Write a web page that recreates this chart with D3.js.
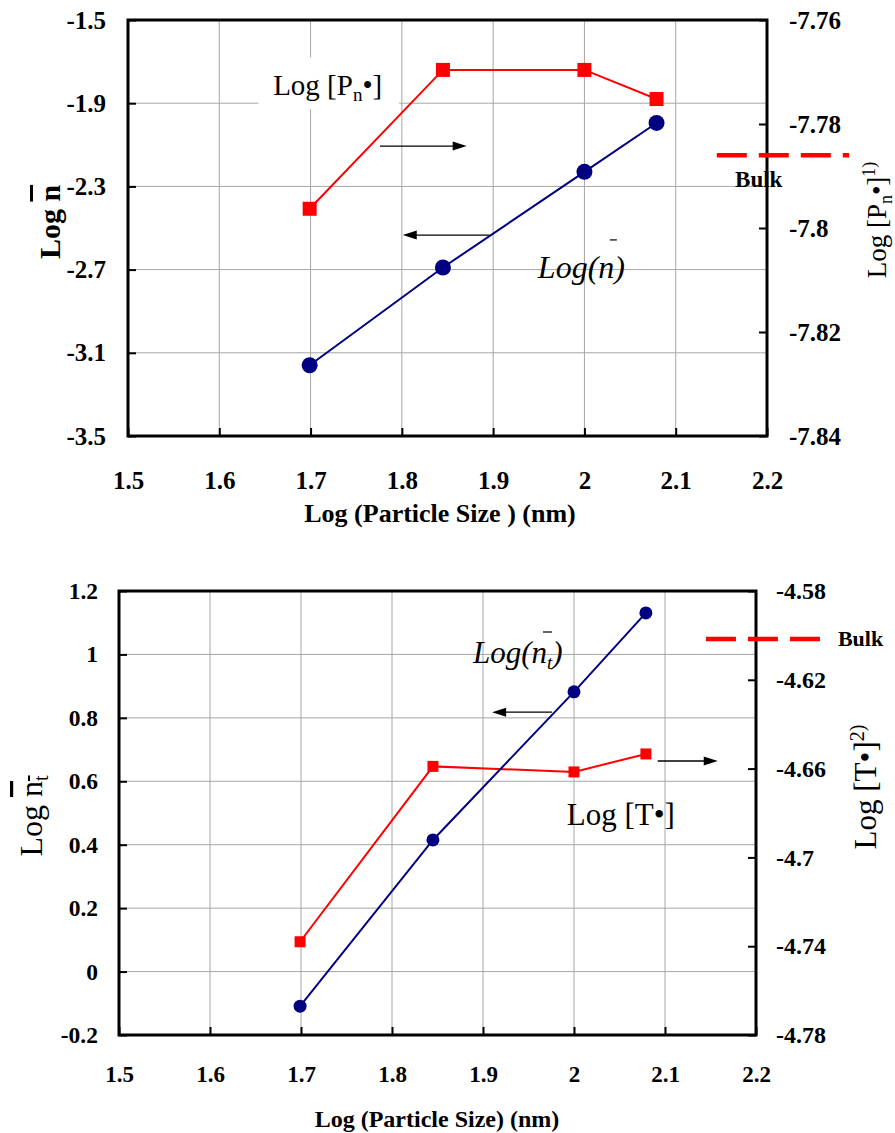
<!DOCTYPE html>
<html><head><meta charset="utf-8">
<script src="https://cdn.jsdelivr.net/npm/d3@7"></script>
<style>
body{margin:0;background:#fff}
svg{display:block}
text{font-family:"Liberation Serif","Times New Roman",serif}
</style>
</head><body>
<svg id="c" width="895" height="1133"></svg>
<script>
// ---------- data ----------
const particleSizeLog = [1.699, 1.845, 2.0, 2.079];
const xTicks = [1.5, 1.6, 1.7, 1.8, 1.9, 2.0, 2.1, 2.2];

// top panel
const topLogN = [-3.16, -2.69, -2.23, -1.995];
const topLogP = [-7.7963, -7.7696, -7.7696, -7.7752];
const topLeftTicks = [-1.5, -1.9, -2.3, -2.7, -3.1, -3.5];
const topRightTicks = [-7.76, -7.78, -7.8, -7.82, -7.84];
const topBulk = -7.786;

// bottom panel
const bottomLogNt = [-0.109, 0.415, 0.882, 1.131];
const bottomLogT = [-4.738, -4.659, -4.6615, -4.6534];
const bottomLeftTicks = [1.2, 1, 0.8, 0.6, 0.4, 0.2, 0, -0.2];
const bottomRightTicks = [-4.58, -4.62, -4.66, -4.7, -4.74, -4.78];
const bottomBulk = -4.6016;

const bulkXRange = [2.145, 2.29];

const svg = d3.select("#c");
const NAVY = "#000080", RED = "#ff0000";

function arrow(g, x1, x2, y) {
  const dir = Math.sign(x2 - x1);
  g.append("line").attr("x1", x1).attr("x2", x2 - dir * 10).attr("y1", y).attr("y2", y)
    .attr("stroke", "#000").attr("stroke-width", 1.3);
  g.append("path")
    .attr("d", `M${x2},${y} L${x2 - dir * 14},${y - 4.5} L${x2 - dir * 14},${y + 4.5} Z`)
    .attr("fill", "#000");
}

function panel(cfg) {
  const g = svg.append("g");
  const x = d3.scaleLinear().domain([1.5, 2.2]).range([cfg.l, cfg.r]);
  const yL = d3.scaleLinear().domain(d3.extent(cfg.leftTicks)).range([cfg.b, cfg.t]);
  const yR = d3.scaleLinear().domain(d3.extent(cfg.rightTicks)).range([cfg.b, cfg.t]);

  // grid
  g.append("g").selectAll("line").data(xTicks.slice(1, -1)).join("line")
    .attr("x1", d => x(d)).attr("x2", d => x(d)).attr("y1", cfg.t).attr("y2", cfg.b)
    .attr("stroke", "#a6a6a6").attr("stroke-width", 1);
  g.append("g").selectAll("line").data(cfg.leftTicks.slice(1, -1)).join("line")
    .attr("x1", cfg.l).attr("x2", cfg.r).attr("y1", d => yL(d)).attr("y2", d => yL(d))
    .attr("stroke", "#a6a6a6").attr("stroke-width", 1);

  if (cfg.labelBox) {
    const b = cfg.labelBox;
    g.append("rect").attr("x", x(b[0])).attr("y", yL(b[1]))
      .attr("width", x(b[2]) - x(b[0])).attr("height", yL(b[3]) - yL(b[1])).attr("fill", "#fff");
  }

  const styleAxis = (sel, size) => {
    sel.select(".domain").remove();
    sel.selectAll(".tick line").attr("stroke", "#000").attr("stroke-width", 2);
    sel.selectAll("text").attr("font-family", '"Liberation Serif","Times New Roman",serif')
      .attr("font-size", size).attr("font-weight", "bold").attr("fill", "#000");
    sel.attr("font-family", null).attr("font-size", null);
  };

  g.append("g").attr("transform", `translate(${cfg.l},0)`)
    .call(d3.axisLeft(yL).tickValues(cfg.leftTicks).tickSize(-8).tickPadding(cfg.padL).tickFormat(String))
    .call(s => styleAxis(s, cfg.tickFont));
  g.append("g").attr("transform", `translate(${cfg.r},0)`)
    .call(d3.axisRight(yR).tickValues(cfg.rightTicks).tickSize(-8).tickPadding(cfg.padR).tickFormat(String))
    .call(s => styleAxis(s, cfg.rTickFont));
  g.append("g").attr("transform", `translate(0,${cfg.b})`)
    .call(d3.axisBottom(x).tickValues(xTicks).tickSize(-8).tickPadding(cfg.padB).tickFormat(String))
    .call(s => styleAxis(s, cfg.xTickFont));

  // frame
  g.append("rect").attr("x", cfg.l).attr("y", cfg.t).attr("width", cfg.r - cfg.l).attr("height", cfg.b - cfg.t)
    .attr("fill", "none").attr("stroke", "#000").attr("stroke-width", 3);

  // series lines
  const lineL = d3.line().x((d, i) => x(particleSizeLog[i])).y(d => yL(d));
  const lineR = d3.line().x((d, i) => x(particleSizeLog[i])).y(d => yR(d));
  g.append("path").attr("d", lineR(cfg.rightData)).attr("fill", "none").attr("stroke", RED).attr("stroke-width", 2);
  g.append("path").attr("d", lineL(cfg.leftData)).attr("fill", "none").attr("stroke", NAVY).attr("stroke-width", 2);
  g.append("g").selectAll("rect").data(cfg.rightData).join("rect")
    .attr("x", (d, i) => x(particleSizeLog[i]) - cfg.sq / 2).attr("y", d => yR(d) - cfg.sq / 2)
    .attr("width", cfg.sq).attr("height", cfg.sq).attr("fill", RED);
  g.append("g").selectAll("circle").data(cfg.leftData).join("circle")
    .attr("cx", (d, i) => x(particleSizeLog[i])).attr("cy", d => yL(d)).attr("r", cfg.rad).attr("fill", NAVY);

  // bulk line
  g.append("line").attr("x1", x(bulkXRange[0])).attr("x2", x(cfg.bulkEnd))
    .attr("y1", yR(cfg.bulk)).attr("y2", yR(cfg.bulk))
    .attr("stroke", RED).attr("stroke-width", 4.5).attr("stroke-dasharray", "30,12");

  return {g, x, yL, yR};
}

// ---------- top panel ----------
{
  const cfg = {
    l: 128, r: 767, t: 20, b: 436,
    leftTicks: topLeftTicks, rightTicks: topRightTicks,
    leftData: topLogN, rightData: topLogP, bulk: topBulk, bulkEnd: 2.29,
    padL: 22, padR: 22, padB: 35, tickFont: 25, rTickFont: 25, xTickFont: 25,
    sq: 14, rad: 8,
    labelBox: [1.643, -1.68, 1.797, -1.93]
  };
  const {g, x, yL} = panel(cfg);
  // labels
  const t1 = g.append("text").attr("x", x(1.659)).attr("y", yL(-1.86)).attr("font-size", 29);
  t1.append("tspan").text("Log [P");
  t1.append("tspan").attr("font-size", 19).attr("dy", 6).text("n");
  t1.append("tspan").attr("dy", -6).text("•]");
  arrow(g, x(1.776), x(1.871), yL(-2.106));
  arrow(g, x(1.896), x(1.801), yL(-2.534));
  const lx = x(1.949), ly = yL(-2.740);
  g.append("text").attr("x", lx).attr("y", ly).attr("font-size", 32).attr("font-style", "italic").text("Log(n)");
  g.append("line").attr("x1", lx + 72).attr("x2", lx + 79).attr("y1", ly - 38).attr("y2", ly - 38)
    .attr("stroke", "#000").attr("stroke-width", 1.2);
  g.append("text").attr("x", x(2.165)).attr("y", yL(-2.303)).attr("font-size", 23).attr("font-weight", "bold").text("Bulk");
  // axis titles
  g.append("text").attr("x", 440).attr("y", 522).attr("text-anchor", "middle").attr("font-size", 26)
    .attr("font-weight", "bold").text("Log (Particle Size ) (nm)");
  const lt = g.append("text").attr("transform", "translate(60,222) rotate(-90)").attr("text-anchor", "middle")
    .attr("font-size", 30).attr("font-weight", "bold");
  lt.append("tspan").text("Log ");
  lt.append("tspan").attr("text-decoration", "overline").text("n");
  const rt = g.append("text").attr("transform", "translate(886,220) rotate(-90)").attr("text-anchor", "middle")
    .attr("font-size", 27);
  rt.append("tspan").text("Log [P");
  rt.append("tspan").attr("font-size", 18).attr("dy", 6).text("n");
  rt.append("tspan").attr("dy", -6).text("•]");
  rt.append("tspan").attr("font-size", 18).attr("dy", -11).text("1)");
}

// ---------- bottom panel ----------
{
  const cfg = {
    l: 119, r: 756, t: 591, b: 1035,
    leftTicks: bottomLeftTicks, rightTicks: bottomRightTicks,
    leftData: bottomLogNt, rightData: bottomLogT, bulk: bottomBulk, bulkEnd: 2.281,
    padL: 21, padR: 20, padB: 31, tickFont: 23.5, rTickFont: 24, xTickFont: 23,
    sq: 11, rad: 6.5
  };
  const {g, x, yL} = panel(cfg);
  const lx = x(1.889), ly = yL(0.973);
  const t = g.append("text").attr("x", lx).attr("y", ly).attr("font-size", 31).attr("font-style", "italic");
  t.append("tspan").text("Log(n");
  t.append("tspan").attr("font-size", 19).attr("dy", 6).text("t");
  t.append("tspan").attr("dy", -6).text(")");
  g.append("line").attr("x1", lx + 70).attr("x2", lx + 79).attr("y1", ly - 31).attr("y2", ly - 31)
    .attr("stroke", "#000").attr("stroke-width", 1.2);
  arrow(g, x(1.976), x(1.910), yL(0.818));
  arrow(g, x(2.092), x(2.158), yL(0.664));
  g.append("text").attr("x", x(1.992)).attr("y", yL(0.462)).attr("font-size", 31).text("Log [T•]");
  g.append("text").attr("x", x(2.290)).attr("y", yL(1.027)).attr("font-size", 22).attr("font-weight", "bold").text("Bulk");
  g.append("text").attr("x", 437).attr("y", 1127).attr("text-anchor", "middle").attr("font-size", 24)
    .attr("font-weight", "bold").text("Log (Particle Size) (nm)");
  const lt = g.append("text").attr("transform", "translate(42,816) rotate(-90)").attr("text-anchor", "middle")
    .attr("font-size", 32);
  lt.append("tspan").text("Log ");
  const ov = lt.append("tspan").attr("text-decoration", "overline");
  ov.append("tspan").text("n");
  ov.append("tspan").attr("font-size", 20).attr("dy", 6).text("t");
  const rt = g.append("text").attr("transform", "translate(876,787) rotate(-90)").attr("text-anchor", "middle")
    .attr("font-size", 31);
  rt.append("tspan").text("Log [T•]");
  rt.append("tspan").attr("font-size", 20).attr("dy", -12).text("2)");
}
</script>
</body></html>
